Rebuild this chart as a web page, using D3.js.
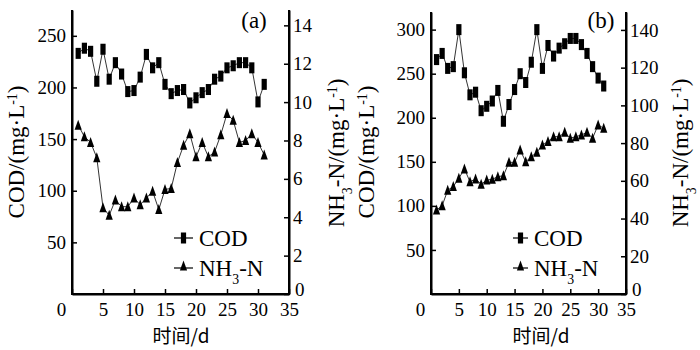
<!DOCTYPE html>
<html><head><meta charset="utf-8">
<script src="https://cdn.jsdelivr.net/npm/d3@7"></script>
<style>
html,body{margin:0;padding:0;background:#fff;}
svg{display:block;}
text{font-family:"Liberation Serif","Times New Roman",serif;fill:#000;}
</style></head>
<body><svg id="chart" width="700" height="350"></svg>
<script>
const days = [1,2,3,4,5,6,7,8,9,10,11,12,13,14,15,16,17,18,19,20,21,22,23,24,25,26,27,28,29,30,31];
const codA = [233,238,235,206,237,208,224,213,196,197,210,232,219,224,203,194,197,198,185,190,195,198,208,211,219,221,224,224,219,186,203];
const nh3A = [8.8,8.2,7.9,7.1,4.5,4.1,4.9,4.55,4.55,5.0,4.65,5.0,5.35,4.4,5.45,5.5,6.85,7.75,8.35,7.15,7.9,7.15,7.4,8.3,9.4,9.05,7.9,8.0,8.35,7.9,7.25];
const codB = [266,273,256,258,300,251,226,229,208,213,219,231,196,215,232,250,240,263,300,256,282,270,279,284,290,290,283,273,258,245,236];
const nh3B = [44.5,46.8,55,57,61.3,66.3,59.5,61,58.2,60.4,60.8,62.2,62.7,69.8,69.8,76.4,70.1,72.8,75.1,79,80.8,83.4,83.4,85.7,82.6,83.4,84.3,85.7,82.6,89.6,87.9];
const xTicks = [0,5,10,15,20,25,30,35];
const codTicksA = [50,100,150,200,250];
const nh3TicksA = [0,2,4,6,8,10,12,14];
const codTicksB = [50,100,150,200,250,300];
const nh3TicksB = [0,20,40,60,80,100,120,140];
const legendNames = ["COD","NH3-N"];
const panelLabels = ["(a)","(b)"];
const xTitle = "时间/d";

const svg = d3.select("#chart");
const FS = 19;

function nh3Label(sel){
  sel.append("tspan").text("NH");
  sel.append("tspan").attr("baseline-shift","sub").attr("font-size","0.6em").text("3");
  sel.append("tspan").text("-N");
}
function unitLabel(sel, prefix, isNh3){
  if(isNh3){
    sel.append("tspan").text("NH");
    sel.append("tspan").attr("baseline-shift","sub").attr("font-size","0.6em").text("3");
    sel.append("tspan").text("-N/(mg·L");
  } else {
    sel.append("tspan").text(prefix + "/(mg·L");
  }
  sel.append("tspan").attr("baseline-shift","super").attr("font-size","0.6em").text("-1");
  sel.append("tspan").text(")");
}

const triPath = "M0,-5.5L3.6,4.5L-3.6,4.5Z";

function panel(cfg){
  const g = svg.append("g");
  const x = d3.scaleLinear().domain([0,35]).range([cfg.x0, cfg.x1]);
  const yC = d3.scaleLinear().domain([0,cfg.codMax]).range([294, cfg.top]);
  const yN = d3.scaleLinear().domain([0,cfg.nh3Max]).range([294, cfg.top]);

  const ax = g.append("g").attr("transform","translate(0,294)")
    .call(d3.axisBottom(x).tickValues(xTicks).tickSizeInner(-5).tickSizeOuter(0).tickPadding(9));
  ax.selectAll("text").filter(d=>d===0).attr("x",-11);
  const al = g.append("g").attr("transform",`translate(${cfg.x0},0)`)
    .call(d3.axisLeft(yC).tickValues(cfg.codTicks).tickSizeInner(-5).tickSizeOuter(0).tickPadding(6));
  const ar = g.append("g").attr("transform",`translate(${cfg.x1},0)`)
    .call(d3.axisRight(yN).tickValues(cfg.nh3Ticks).tickSizeInner(-5).tickSizeOuter(0).tickPadding(4));
  ar.selectAll("text").filter(d=>d===0).attr("x",6).attr("dy","0.1em");
  [ax,al,ar].forEach(a=>{
    a.attr("font-family",null);
    a.select(".domain").attr("stroke","#000").attr("stroke-width",2);
    a.selectAll(".tick line").attr("stroke","#000").attr("stroke-width",1.5);
    a.selectAll("text").attr("font-size",FS).attr("fill","#000");
  });
  g.append("path").attr("d",`M${cfg.x0},${cfg.top}V294H${cfg.x1}V${cfg.top}`)
    .attr("fill","none").attr("stroke","#000").attr("stroke-width",2);

  const lineC = d3.line().x((d,i)=>x(days[i])).y(d=>yC(d));
  const lineN = d3.line().x((d,i)=>x(days[i])).y(d=>yN(d));
  g.append("path").attr("d",lineC(cfg.cod)).attr("fill","none").attr("stroke","#000").attr("stroke-width",0.8);
  g.append("path").attr("d",lineN(cfg.nh3)).attr("fill","none").attr("stroke","#000").attr("stroke-width",0.8);
  g.selectAll(".cm").data(cfg.cod).enter().append("rect")
    .attr("x",(d,i)=>x(days[i])-2.6).attr("y",d=>yC(d)-5.5).attr("width",5.2).attr("height",11).attr("fill","#000");
  g.selectAll(".nm").data(cfg.nh3).enter().append("path")
    .attr("d",triPath).attr("transform",(d,i)=>`translate(${x(days[i])},${yN(d)})`).attr("fill","#000");

  const lg = g.append("g");
  lg.append("line").attr("x1",cfg.lgx).attr("x2",cfg.lgx+cfg.lgw).attr("y1",238).attr("y2",238).attr("stroke","#000").attr("stroke-width",1.2);
  lg.append("rect").attr("x",cfg.lgx+cfg.lgw/2-2.6).attr("y",232.5).attr("width",5.2).attr("height",11).attr("fill","#000");
  lg.append("text").attr("x",cfg.lgx+cfg.lgw+6).attr("y",238).attr("dy","0.35em").attr("font-size",23).text(legendNames[0]);
  lg.append("line").attr("x1",cfg.lgx).attr("x2",cfg.lgx+cfg.lgw).attr("y1",268).attr("y2",268).attr("stroke","#000").attr("stroke-width",1.2);
  lg.append("path").attr("d",triPath).attr("transform",`translate(${cfg.lgx+cfg.lgw/2},266)`).attr("fill","#000");
  const t2 = lg.append("text").attr("x",cfg.lgx+cfg.lgw+6).attr("y",268).attr("dy","0.35em").attr("font-size",23);
  nh3Label(t2);

  g.append("text").attr("x",cfg.plx).attr("y",28).attr("text-anchor","middle").attr("font-size",23).text(cfg.pl);

  g.append("text").attr("x",cfg.xtx).attr("y",343).attr("text-anchor","middle")
    .style("font-family","'Noto Sans CJK SC'").attr("font-size",19).text(xTitle);

  const tl = g.append("text").attr("transform",`translate(${cfg.ytl},152) rotate(-90)`)
    .attr("text-anchor","middle").attr("dy","0.35em").attr("font-size",23);
  unitLabel(tl,"COD",false);
  const tr = g.append("text").attr("transform",`translate(${cfg.ytr},153) rotate(-90)`)
    .attr("text-anchor","middle").attr("dy","0.35em").attr("font-size",23);
  unitLabel(tr,"",true);
}

panel({x0:72,x1:289,top:10,codMax:275,nh3Max:14.8,codTicks:codTicksA,nh3Ticks:nh3TicksA,
  cod:codA,nh3:nh3A,lgx:174,lgw:19,pl:panelLabels[0],plx:254,xtx:181,ytl:16,ytr:336});
panel({x0:431,x1:626,top:12,codMax:320,nh3Max:149.5,codTicks:codTicksB,nh3Ticks:nh3TicksB,
  cod:codB,nh3:nh3B,lgx:513,lgw:15,pl:panelLabels[1],plx:601,xtx:541,ytl:366,ytr:680});
</script></body></html>
